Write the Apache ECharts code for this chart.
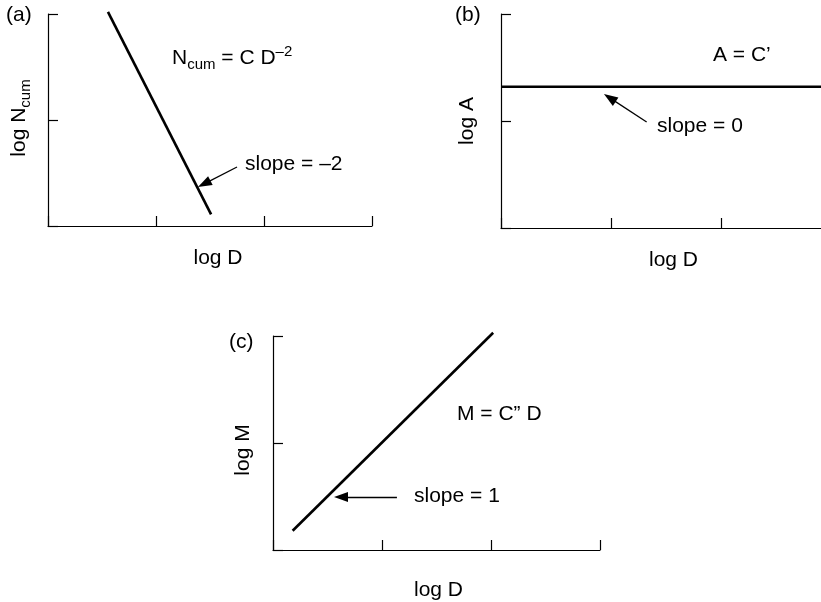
<!DOCTYPE html>
<html>
<head>
<meta charset="utf-8">
<script src="https://cdn.jsdelivr.net/npm/echarts@6/dist/echarts.min.js"></script>
<style>
  html, body { margin: 0; padding: 0; background: #fff; }
  #chart { width: 821px; height: 602px; }
</style>
</head>
<body>
<div id="chart"></div>
<script>
// Power-law relations on log-log axes: cumulative number, area and mass vs diameter
const FONT = '"Liberation Sans", Arial, Helvetica, sans-serif';
const FS = 21;

// Axis ranges (log units, unlabeled ticks)
const xTicks = [0, 1, 2, 3];
const yTicks = [0, 1, 2];

// (a) N_cum = C D^-2  (slope -2)
const lineA = [[0.555, 2.02], [1.51, 0.11]];
const arrowA = [[1.75, 0.557], [1.446, 0.398]];

// (b) A = C'  (slope 0)
const lineB = [[0, 1.32], [3, 1.32]];
const arrowB = [[1.32, 0.99], [0.986, 1.216]];

// (c) M = C'' D  (slope 1)
const lineC = [[0.18, 0.18], [2.02, 2.03]];
const arrowC = [[1.137, 0.495], [0.624, 0.495]];

const chart = echarts.init(document.getElementById('chart'), null, { renderer: 'canvas' });

const axisLineStyle = { color: '#000', width: 1.2 };

function xAxis(gridIndex, gap, padLeft) {
  return {
    gridIndex, type: 'value',
    min: xTicks[0], max: xTicks[xTicks.length - 1], interval: 1,
    axisLine: { show: true, onZero: false, lineStyle: axisLineStyle },
    axisTick: { show: true, inside: true, length: 10, lineStyle: axisLineStyle },
    axisLabel: { show: false },
    splitLine: { show: false },
    name: 'log D', nameLocation: 'middle', nameGap: gap,
    nameTextStyle: { fontFamily: FONT, fontSize: FS, color: '#000', padding: [0, 0, 0, padLeft] }
  };
}

function yAxis(gridIndex, name, gap, pad, rich) {
  return {
    gridIndex, type: 'value',
    min: yTicks[0], max: yTicks[yTicks.length - 1], interval: 1,
    axisLine: { show: true, onZero: false, lineStyle: axisLineStyle },
    axisTick: { show: true, inside: true, length: 10, lineStyle: axisLineStyle },
    axisLabel: { show: false },
    splitLine: { show: false },
    name, nameLocation: 'middle', nameGap: gap,
    nameTextStyle: { fontFamily: FONT, fontSize: FS, color: '#000', padding: pad, rich }
  };
}

function arrow(pts) {
  return {
    silent: true,
    symbol: ['none', 'triangle'],
    symbolSize: [10, 14],
    label: { show: false },
    lineStyle: { color: '#000', width: 1.3, type: 'solid' },
    emphasis: { disabled: true },
    animation: false,
    data: [[{ coord: pts[0] }, { coord: pts[1] }]]
  };
}

function lineSeries(idx, pts, arr) {
  return {
    type: 'line', xAxisIndex: idx, yAxisIndex: idx,
    data: pts, symbol: 'none', clip: false,
    lineStyle: { color: '#000', width: 2.6 },
    silent: true, animation: false,
    markLine: arrow(arr)
  };
}

function text(x, y, str, rich) {
  return {
    type: 'text', x, y, silent: true,
    style: {
      text: str, fontFamily: FONT, fontSize: FS, fill: '#000',
      verticalAlign: 'middle', align: 'left', rich
    }
  };
}

const subRich = {
  b: { fontFamily: FONT, fontSize: FS, lineHeight: 28, color: '#000' },
  sub: { fontFamily: FONT, fontSize: 15, lineHeight: 14, verticalAlign: 'bottom', color: '#000' },
  sup: { fontFamily: FONT, fontSize: 15, lineHeight: 22, verticalAlign: 'top', color: '#000' }
};

const option = {
  backgroundColor: '#fff',
  animation: false,
  grid: [
    { left: 48, top: 14, width: 324, height: 212, outerBoundsMode: 'none' },
    { left: 501, top: 14, width: 331, height: 214, outerBoundsMode: 'none' },
    { left: 273, top: 336, width: 327, height: 214, outerBoundsMode: 'none' }
  ],
  xAxis: [xAxis(0, 22, 16), xAxis(1, 22, 14), xAxis(2, 30, 4)],
  yAxis: [
    yAxis(0, '{b|log N}{sub|cum}', 15, [0, 0, 0, 4], subRich),
    yAxis(1, 'log A', 23, [0, 0, 0, 0]),
    yAxis(2, 'log M', 19, [0, 14, 0, 0])
  ],
  series: [
    lineSeries(0, lineA, arrowA),
    lineSeries(1, lineB, arrowB),
    lineSeries(2, lineC, arrowC)
  ],
  graphic: [
    text(6, 15, '(a)'),
    text(455, 15, '(b)'),
    text(229, 342, '(c)'),
    text(172, 58, '{b|N}{sub|cum}{b| = C D}{sup|–2}', subRich),
    text(245, 164, 'slope = –2'),
    text(713, 55, 'A = C’'),
    text(657, 126, 'slope = 0'),
    text(457, 414, 'M = C” D'),
    text(414, 496, 'slope = 1')
  ]
};

chart.setOption(option);
</script>
</body>
</html>
